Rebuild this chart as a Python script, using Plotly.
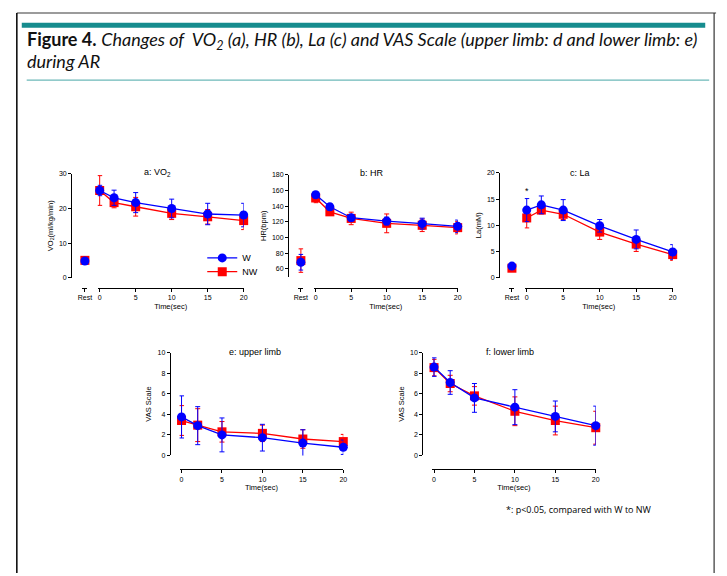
import plotly.graph_objects as go

W_PX, H_PX = 727, 576
def fx(px): return px / W_PX
def fy(py): return 1 - py / H_PX

# ---------------- data ----------------
time_pts = [0, 2, 5, 10, 15, 20]
time_ticks = [0, 5, 10, 15, 20]
rest_label = ["Rest"]

# a: VO2
vo2_w_rest, vo2_w_rest_sd = [4.8], [0.6]
vo2_nw_rest, vo2_nw_rest_sd = [5.0], [0.6]
vo2_w = [25.2, 23.1, 21.7, 20.0, 18.4, 18.1]
vo2_w_sd = [1.5, 2.2, 2.9, 2.7, 3.1, 3.4]
vo2_nw = [25.2, 21.7, 20.5, 18.6, 17.6, 16.5]
vo2_nw_sd = [4.3, 1.5, 2.7, 1.8, 2.1, 2.6]

# b: HR
hr_w_rest, hr_w_rest_sd = [68.4], [10]
hr_nw_rest, hr_nw_rest_sd = [70.5], [15]
hr_w = [154.7, 139.2, 125.3, 121.0, 117.7, 114.3]
hr_w_sd = [3, 4, 4, 5, 7, 8]
hr_nw = [150.5, 132.8, 124.4, 118.1, 115.6, 112.6]
hr_nw_sd = [6, 4, 8, 12, 8, 8]

# c: La
la_w_rest, la_w_rest_sd = [2.2], [0.3]
la_nw_rest, la_nw_rest_sd = [1.8], [0.3]
la_w = [12.9, 13.9, 12.9, 9.9, 7.3, 4.9]
la_w_sd = [2.2, 1.7, 2.0, 1.2, 1.8, 1.4]
la_nw = [11.4, 12.9, 12.1, 8.7, 6.4, 4.4]
la_nw_sd = [1.9, 0.7, 1.0, 1.4, 1.4, 1.1]

# upper limb VAS
up_w = [3.75, 2.9, 2.0, 1.73, 1.2, 0.8]
up_w_sd = [2.05, 1.85, 1.65, 1.3, 1.3, 0.7]
up_nw = [3.4, 2.95, 2.3, 2.15, 1.6, 1.35]
up_nw_sd = [1.45, 1.6, 1.0, 0.8, 0.9, 0.7]

# lower limb VAS
lo_w = [8.6, 7.1, 5.6, 4.7, 3.8, 2.9]
lo_w_sd = [0.9, 1.15, 1.4, 1.7, 1.5, 1.9]
lo_nw = [8.55, 7.0, 5.8, 4.3, 3.4, 2.7]
lo_nw_sd = [0.8, 0.8, 0.9, 1.4, 1.4, 1.6]

BLUE = "#0000FF"
RED = "#FF0000"
TEAL = "#168C8E"
TICKFONT = dict(family="Liberation Sans", size=7, color="black")
TITLEFONT = dict(family="Liberation Sans", size=7.5, color="black")
PANELFONT = dict(family="Liberation Sans", size=9, color="black")

fig = go.Figure()
layout_axes = {}

def add_series(xref, yref, xs, ys, sds, color, symbol, name, show_leg, legend_id):
    fig.add_trace(go.Scatter(
        x=xs, y=ys, xaxis=xref, yaxis=yref, mode="lines+markers", name=name,
        showlegend=show_leg, legend=legend_id, cliponaxis=False,
        line=dict(color=color, width=1.3),
        marker=dict(color=color, symbol=symbol, size=9),
        error_y=dict(type="data", array=sds, color=color, thickness=1, width=2.5),
    ))

def y_axis(idx, x_px, top_px, bot_px, rng, ticks, title):
    layout_axes[f"yaxis{idx}"] = dict(
        domain=[fy(bot_px), fy(top_px)], range=rng, anchor="free", position=fx(x_px),
        showline=True, linecolor="black", linewidth=1, ticks="outside", ticklen=3,
        tickcolor="black", tickvals=ticks, tickfont=TICKFONT, showgrid=False, zeroline=False,
        title=dict(text=title, font=TITLEFONT, standoff=3),
    )

def x_axis(idx, l_px, r_px, y_px, rng, ticks, ticktext=None, title=None):
    d = dict(
        domain=[fx(l_px), fx(r_px)], range=rng, anchor="free", position=fy(y_px),
        showline=True, linecolor="black", linewidth=1, ticks="outside", ticklen=3,
        tickcolor="black", tickvals=ticks, tickfont=TICKFONT, showgrid=False, zeroline=False,
    )
    if ticktext is not None:
        d["ticktext"] = ticktext
    if title:
        d["title"] = dict(text=title, font=TITLEFONT, standoff=3)
    layout_axes[f"xaxis{idx}"] = d

top_panels = [
    dict(yi=1, xr=1, xt=2, yx=67, top=172, bot=277, rng=[0, 30], yt=[0, 10, 20, 30],
         ytitle="VO<sub>2</sub>(ml/kg/min)", rest_px=81, x0=96, x20=242,
         w_rest=vo2_w_rest, w_rest_sd=vo2_w_rest_sd, nw_rest=vo2_nw_rest, nw_rest_sd=vo2_nw_rest_sd,
         w=vo2_w, w_sd=vo2_w_sd, nw=vo2_nw, nw_sd=vo2_nw_sd, title="a: VO<sub>2</sub>", tx=155, leg=True),
    dict(yi=2, xr=3, xt=4, yx=287, top=173, bot=276, rng=[50, 180], yt=[60, 80, 100, 120, 140, 160, 180],
         ytitle="HR(bpm)", rest_px=300, x0=315, x20=459,
         w_rest=hr_w_rest, w_rest_sd=hr_w_rest_sd, nw_rest=hr_nw_rest, nw_rest_sd=hr_nw_rest_sd,
         w=hr_w, w_sd=hr_w_sd, nw=hr_nw, nw_sd=hr_nw_sd, title="b: HR", tx=372, leg=False),
    dict(yi=3, xr=5, xt=6, yx=501, top=171, bot=277, rng=[0, 20], yt=[0, 5, 10, 15, 20],
         ytitle="La(mM)", rest_px=514, x0=529, x20=677,
         w_rest=la_w_rest, w_rest_sd=la_w_rest_sd, nw_rest=la_nw_rest, nw_rest_sd=la_nw_rest_sd,
         w=la_w, w_sd=la_w_sd, nw=la_nw, nw_sd=la_nw_sd, title="c: La", tx=583, leg=False),
]

annotations = []
for p in top_panels:
    yi = p["yi"]
    yref = "y" if yi == 1 else f"y{yi}"
    xr_ref = "x" if p["xr"] == 1 else f"x{p['xr']}"
    xt_ref = f"x{p['xt']}"
    y_axis("" if yi == 1 else yi, p["yx"], p["top"], p["bot"], p["rng"], p["yt"], p["ytitle"])
    ppu = (p["x20"] - p["x0"]) / 20.0
    x_axis("" if p["xr"] == 1 else p["xr"], p["rest_px"] - 2.5, p["rest_px"] + 2.5, 287,
           [-0.5, 0.5], [0], rest_label)
    x_axis(p["xt"], p["x0"] - 2, p["x20"], 287, [-2 / ppu, 20], time_ticks, title="Time(sec)")
    add_series(xr_ref, yref, [0], p["nw_rest"], p["nw_rest_sd"], RED, "square", "NW", False, "legend2")
    add_series(xr_ref, yref, [0], p["w_rest"], p["w_rest_sd"], BLUE, "circle", "W", False, "legend")
    add_series(xt_ref, yref, time_pts, p["nw"], p["nw_sd"], RED, "square", "NW", p["leg"], "legend2")
    add_series(xt_ref, yref, time_pts, p["w"], p["w_sd"], BLUE, "circle", "W", p["leg"], "legend")
    annotations.append(dict(x=fx(p["tx"]), y=fy(171), xref="paper", yref="paper", text=p["title"],
                            showarrow=False, font=PANELFONT, xanchor="center", yanchor="middle"))

# significance star on La at time 0
annotations.append(dict(x=0, y=16.6, xref="x6", yref="y3", text="*", showarrow=False,
                        font=dict(family="Liberation Sans", size=9, color="black"),
                        xanchor="center", yanchor="middle"))

bottom_panels = [
    dict(yi=4, xt=7, yx=167, x0=179, x20=343, w=up_w, w_sd=up_w_sd, nw=up_nw, nw_sd=up_nw_sd,
         title="e: upper limb", tx=253),
    dict(yi=5, xt=8, yx=423, x0=435, x20=599, w=lo_w, w_sd=lo_w_sd, nw=lo_nw, nw_sd=lo_nw_sd,
         title="f: lower limb", tx=512),
]
for p in bottom_panels:
    yref = f"y{p['yi']}"
    xt_ref = f"x{p['xt']}"
    y_axis(p["yi"], p["yx"], 353, 457, [0, 10], [0, 2, 4, 6, 8, 10], "VAS Scale")
    ppu = (p["x20"] - p["x0"]) / 20.0
    x_axis(p["xt"], p["x0"] - 2, p["x20"], 471, [-2 / ppu, 20], time_ticks, title="Time(sec)")
    add_series(xt_ref, yref, time_pts, p["nw"], p["nw_sd"], RED, "square", "NW", False, "legend2")
    add_series(xt_ref, yref, time_pts, p["w"], p["w_sd"], BLUE, "circle", "W", False, "legend")
    annotations.append(dict(x=fx(p["tx"]), y=fy(352), xref="paper", yref="paper", text=p["title"],
                            showarrow=False, font=PANELFONT, xanchor="center", yanchor="middle"))

HEADFONT = dict(family="Lato", size=18, color="#111111")
annotations.append(dict(x=fx(20), y=fy(37), xref="paper", yref="paper", xanchor="left", yanchor="middle",
                        showarrow=False,
                        text="<b>Figure 4.</b> <i>Changes of  VO<sub>2</sub> (a), HR (b), La (c) and VAS Scale (upper limb: d and lower limb: e)</i>",
                        font=HEADFONT))
annotations.append(dict(x=fx(20), y=fy(58), xref="paper", yref="paper", xanchor="left", yanchor="middle",
                        showarrow=False, text="<i>during AR</i>", font=HEADFONT))
annotations.append(dict(x=fx(506), y=fy(512), xref="paper", yref="paper", xanchor="left", yanchor="middle",
                        showarrow=False, text="*: p<0.05, compared with W to NW",
                        font=dict(family="Open Sans", size=9, color="black")))

shapes = [
    dict(type="line", xref="paper", yref="paper", x0=fx(12), x1=fx(721), y0=fy(9), y1=fy(9),
         line=dict(color="#7a7a7a", width=1.5)),
    dict(type="line", xref="paper", yref="paper", x0=fx(12), x1=fx(12), y0=fy(9), y1=0,
         line=dict(color="black", width=1.5)),
    dict(type="line", xref="paper", yref="paper", x0=fx(719), x1=fx(719), y0=fy(9), y1=0,
         line=dict(color="#333333", width=1.2)),
    dict(type="rect", xref="paper", yref="paper", x0=fx(17), x1=fx(710), y0=fy(24), y1=fy(19),
         line=dict(width=0), fillcolor=TEAL),
    dict(type="line", xref="paper", yref="paper", x0=fx(22), x1=fx(714), y0=fy(77), y1=fy(77),
         line=dict(color="#6CB8B8", width=1.2)),
]

LEGFONT = dict(family="Liberation Sans", size=9, color="black")
fig.update_layout(
    width=W_PX, height=H_PX, margin=dict(l=0, r=0, t=0, b=0),
    paper_bgcolor="white", plot_bgcolor="white",
    annotations=annotations, shapes=shapes,
    legend=dict(x=fx(200), y=fy(257), xanchor="left", yanchor="middle", bgcolor="rgba(0,0,0,0)",
                font=LEGFONT, itemwidth=30),
    legend2=dict(x=fx(200), y=fy(271), xanchor="left", yanchor="middle", bgcolor="rgba(0,0,0,0)",
                 font=LEGFONT, itemwidth=30),
    **layout_axes,
)

fig.write_html("out.html", config={"displayModeBar": False},
               post_script="document.body.style.margin='0';document.body.style.overflow='hidden';")
